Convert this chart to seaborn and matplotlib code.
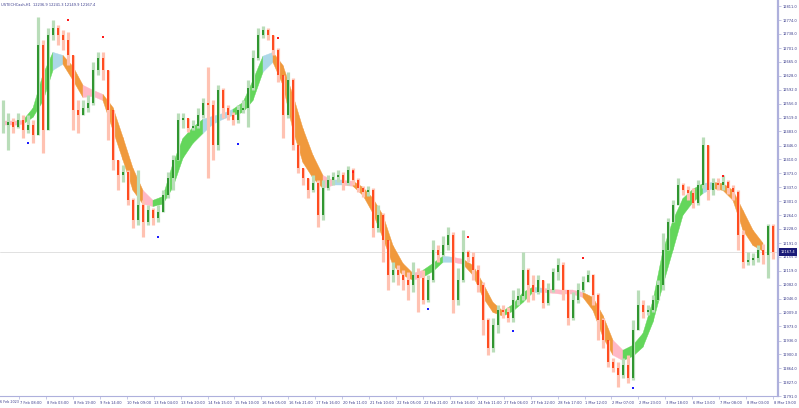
import numpy as np
import pandas as pd
import seaborn as sns
import matplotlib.pyplot as plt
import matplotlib.transforms as mtransforms

# USTECHCash H1 - compressed to one slot per ~3 hourly bars
first_open = 12500.0
close = [
    12500, 12508, 12495, 12513, 12487, 12500, 12474, 12709, 12487, 12735,
    12754, 12735, 12722, 12683, 12539, 12526, 12545, 12558, 12644, 12675,
    12644, 12539, 12409, 12369, 12377, 12304, 12252, 12291, 12246, 12278,
    12257, 12273, 12317, 12362, 12409, 12513, 12518, 12492, 12497, 12526,
    12558, 12552, 12448, 12592, 12545, 12526, 12513, 12539, 12545, 12597,
    12675, 12735, 12748, 12735, 12696, 12631, 12526, 12618, 12448, 12388,
    12362, 12330, 12348, 12265, 12335, 12356, 12364, 12369, 12348, 12382,
    12356, 12335, 12325, 12330, 12231, 12265, 12199, 12108, 12121, 12108,
    12095, 12082, 12108, 12100, 12042, 12095, 12173, 12160, 12186, 12212,
    12042, 12095, 12168, 12155, 12121, 12082, 11990, 11917, 11977, 12016,
    12011, 11995, 12042, 12053, 12121, 12082, 12063, 12095, 12035, 12069,
    12116, 12134, 12069, 11995, 12042, 12069, 12090, 12108, 12056, 11990,
    11938, 11880, 11865, 11846, 11873, 11839, 11964, 12029, 12011, 12016,
    12042, 12082, 12173, 12246, 12291, 12343, 12330, 12322, 12296, 12343,
    12448, 12330, 12348, 12343, 12351, 12335, 12325, 12212, 12142, 12147,
    12152, 12173, 12160, 12236.9, 12167.4]
high = [
    12565, 12531, 12518, 12531, 12526, 12526, 12513, 12782, 12722, 12754,
    12775, 12762, 12748, 12743, 12683, 12565, 12565, 12579, 12665, 12691,
    12691, 12644, 12539, 12409, 12396, 12382, 12309, 12382, 12304, 12291,
    12283, 12291, 12330, 12377, 12422, 12531, 12531, 12518, 12513, 12545,
    12571, 12652, 12565, 12605, 12597, 12552, 12534, 12552, 12565, 12618,
    12696, 12754, 12759, 12754, 12735, 12701, 12631, 12639, 12623, 12448,
    12388, 12362, 12369, 12356, 12356, 12369, 12377, 12382, 12377, 12393,
    12388, 12362, 12341, 12341, 12335, 12291, 12270, 12199, 12142, 12134,
    12121, 12116, 12142, 12126, 12121, 12108, 12199, 12186, 12210, 12233,
    12220, 12126, 12226, 12173, 12168, 12134, 12090, 11995, 11995, 12029,
    12029, 12024, 12069, 12074, 12168, 12126, 12108, 12108, 12095, 12087,
    12126, 12152, 12142, 12069, 12063, 12087, 12105, 12121, 12110, 12061,
    11995, 11938, 11891, 11880, 11891, 11899, 11990, 12069, 12042, 12029,
    12056, 12095, 12218, 12257, 12304, 12362, 12348, 12341, 12335, 12356,
    12469, 12448, 12362, 12362, 12369, 12356, 12343, 12330, 12226, 12168,
    12165, 12186, 12189, 12240, 12241.3]
low = [
    12479, 12435, 12479, 12492, 12466, 12479, 12453, 12474, 12427, 12487,
    12722, 12709, 12696, 12657, 12487, 12479, 12526, 12534, 12552, 12631,
    12618, 12461, 12382, 12330, 12351, 12291, 12231, 12239, 12207, 12239,
    12239, 12246, 12273, 12309, 12330, 12409, 12492, 12482, 12487, 12492,
    12518, 12362, 12409, 12435, 12518, 12513, 12500, 12505, 12531, 12495,
    12592, 12670, 12728, 12722, 12683, 12613, 12466, 12518, 12435, 12375,
    12343, 12309, 12325, 12233, 12252, 12330, 12343, 12351, 12330, 12343,
    12343, 12325, 12312, 12314, 12207, 12220, 12142, 12069, 12090, 12082,
    12069, 12042, 12063, 12011, 12032, 12037, 12090, 12142, 12158, 12173,
    12008, 12029, 12090, 12142, 12095, 12063, 11951, 11899, 11907, 11956,
    11995, 11985, 11985, 12029, 12042, 12037, 12042, 12058, 12022, 12030,
    12063, 12095, 12042, 11977, 11990, 12035, 12063, 12090, 12029, 11938,
    11917, 11867, 11854, 11815, 11839, 11825, 11833, 11964, 11995, 12003,
    12011, 12042, 12069, 12173, 12246, 12291, 12317, 12304, 12283, 12291,
    12335, 12304, 12317, 12330, 12330, 12320, 12304, 12173, 12126, 12134,
    12134, 12142, 12137, 12100, 12149.9]

# trend ribbon, one point every 2 slots; state per segment:
# G rising, O falling, B flat after rise, P flat after fall
band_hi = [
    12511, 12511, 12513, 12545, 12633, 12691, 12683, 12654, 12605, 12592,
    12581, 12547, 12469, 12388, 12330, 12304, 12314, 12401, 12466, 12495,
    12516, 12524, 12531, 12542, 12560, 12618, 12681, 12691, 12657, 12579,
    12492, 12422, 12369, 12356, 12356, 12354, 12338, 12309, 12265, 12186,
    12139, 12113, 12121, 12139, 12158, 12155, 12150, 12134, 12087, 12037,
    12014, 12032, 12063, 12077, 12074, 12071, 12069, 12069, 12063, 12050,
    12003, 11938, 11912, 11925, 11956, 12042, 12173, 12252, 12309, 12333,
    12348, 12351, 12348, 12330, 12278, 12226, 12192]
band_lo = [
    12500, 12500, 12503, 12521, 12563, 12644, 12660, 12618, 12573, 12576,
    12565, 12487, 12409, 12330, 12294, 12288, 12294, 12338, 12414, 12453,
    12479, 12503, 12516, 12526, 12534, 12565, 12639, 12665, 12605, 12487,
    12403, 12362, 12335, 12343, 12343, 12341, 12317, 12270, 12205, 12134,
    12108, 12095, 12103, 12118, 12142, 12142, 12137, 12108, 12050, 12011,
    12001, 12014, 12037, 12063, 12063, 12061, 12058, 12058, 12050, 12016,
    11946, 11899, 11885, 11896, 11920, 11985, 12082, 12173, 12265, 12299,
    12322, 12335, 12330, 12304, 12226, 12186, 12171]
band_state = "PPGGGBOOPPOOOOPGGGGGBBBGGGBOOOOOPBPOOOOOOPGGBPOOOOGGGBPPPPOOOPGGGGGGGGBOOOOO"

# fractal marks (slot, price)
up_frac_bar = [13, 20, 55, 70, 93, 116, 144]
up_frac_px = [12775, 12730, 12728, 12377, 12207, 12152, 12367]
dn_frac_bar = [5, 31, 47, 85, 102, 126]
dn_frac_px = [12453, 12207, 12450, 12019, 11961, 11812]

price_ticks = [12811.0, 12774.0, 12738.0, 12701.0, 12665.0, 12628.0, 12592.0, 12556.0,
               12519.0, 12483.0, 12446.0, 12410.0, 12373.0, 12337.0, 12301.0, 12264.0,
               12228.0, 12191.0, 12155.0, 12119.0, 12082.0, 12046.0, 12009.0, 11973.0,
               11936.0, 11900.0, 11864.0, 11827.0, 11791.0]
time_labels = ["7 Feb 08:00", "8 Feb 03:00", "8 Feb 19:00", "9 Feb 14:00", "10 Feb 09:00",
               "13 Feb 04:00", "13 Feb 20:00", "14 Feb 15:00", "15 Feb 10:00", "16 Feb 05:00",
               "16 Feb 21:00", "17 Feb 16:00", "20 Feb 11:00", "21 Feb 10:00", "22 Feb 05:00",
               "22 Feb 21:00", "23 Feb 16:00", "24 Feb 11:00", "27 Feb 06:00", "27 Feb 22:00",
               "28 Feb 17:00", "1 Mar 12:00", "2 Mar 07:00", "2 Mar 23:00", "3 Mar 18:00",
               "6 Mar 13:00", "7 Mar 08:00", "8 Mar 03:00", "8 Mar 19:00"]

title = "USTECHCash,H1  12236.9 12241.3 12149.9 12167.4"
last_price = close[-1]

BULL, BEAR = "#1c8c1c", "#ff3a0a"
BULL_FADE, BEAR_FADE = "#b9ddb9", "#ffc2b2"
BAND_COL = {"G": "#63d65b", "O": "#f0993c", "B": "#acd8e8", "P": "#ffb8c6"}
AXIS_COL = "#aeb0dc"
TXT_COL = "#3a3c8c"

sns.set_style("white")
plt.rcParams["font.family"] = ["DejaVu Sans"]

fig = plt.figure(figsize=(7.99, 4.08), dpi=100)
W, H = 799, 408
ax = fig.add_axes([0, 12 / H, 778 / W, 396 / H])

df = pd.DataFrame({"o": [first_open] + close[:-1], "h": high, "l": low, "c": close})
df["bar"] = np.arange(len(df))
up = (df["c"] >= df["o"]).values

# ribbon
for j, st in enumerate(band_state):
    xs = [2 * j, 2 * j + 2]
    ax.fill_between(xs, band_lo[j:j + 2], band_hi[j:j + 2], color=BAND_COL[st],
                    lw=0.3, edgecolor=BAND_COL[st], zorder=2)

# candles
ax.vlines(df["bar"], df["l"], df["h"], colors=np.where(up, BULL_FADE, BEAR_FADE), lw=2.3, zorder=3)
ax.vlines(df["bar"], df[["o", "c"]].min(axis=1), df[["o", "c"]].max(axis=1),
          colors=np.where(up, BULL, BEAR), lw=1.25, zorder=4)

sns.scatterplot(x=up_frac_bar, y=up_frac_px, color="#ff1a1a", marker="s", s=3.5,
                linewidth=0, ax=ax, zorder=5)
sns.scatterplot(x=dn_frac_bar, y=dn_frac_px, color="#1a1aff", marker="s", s=3.5,
                linewidth=0, ax=ax, zorder=5)

ax.axhline(last_price, color="#dcdcdc", lw=0.6, zorder=1)

ax.set_xlim(-0.5, 155.1)
ax.set_ylim(11791, 12826.7)

# price scale on the right
ax.yaxis.tick_right()
ax.set_yticks(price_ticks)
ax.set_yticklabels([f"{v:.1f}" for v in price_ticks])
ax.tick_params(axis="y", direction="out", length=2, width=0.5, color=AXIS_COL,
               labelsize=2.6, labelcolor=TXT_COL, pad=1.5, right=True, left=False)

# time scale
tick_x = [(19 + 26.93 * k) / 5 - 0.5 for k in range(len(time_labels))]
ax.set_xticks(tick_x)
ax.set_xticklabels(time_labels, ha="left")
ax.tick_params(axis="x", direction="out", length=2, width=0.5, color=AXIS_COL,
               labelsize=2.6, labelcolor=TXT_COL, pad=1.5, bottom=True)
for lbl in ax.get_xticklabels():
    lbl.set_transform(lbl.get_transform() + mtransforms.ScaledTranslation(0.5 / 72, 0, fig.dpi_scale_trans))
fig.text(0.5 / W, 12 / H - 6 / H, "6 Feb 2023", fontsize=2.4, color=TXT_COL, va="center")

for side in ["left", "top"]:
    ax.spines[side].set_visible(False)
ax.spines["right"].set_color(AXIS_COL)
ax.spines["right"].set_linewidth(1.6)
ax.spines["bottom"].set_color(AXIS_COL)
ax.spines["bottom"].set_linewidth(0.8)

fig.text(1 / W, 1 - 5 / H, title, fontsize=2.6, color=TXT_COL, va="center")

# live price tag
trans = mtransforms.blended_transform_factory(ax.transAxes, ax.transData)
ax.text(1.003, last_price, f"{last_price:.1f}", transform=trans, fontsize=2.6, color="white",
        va="center", ha="left", zorder=10, clip_on=False,
        bbox=dict(boxstyle="square,pad=0.5", fc="#1a1a78", ec="#1a1a78", lw=0))

fig.savefig("out.png", dpi=100)
